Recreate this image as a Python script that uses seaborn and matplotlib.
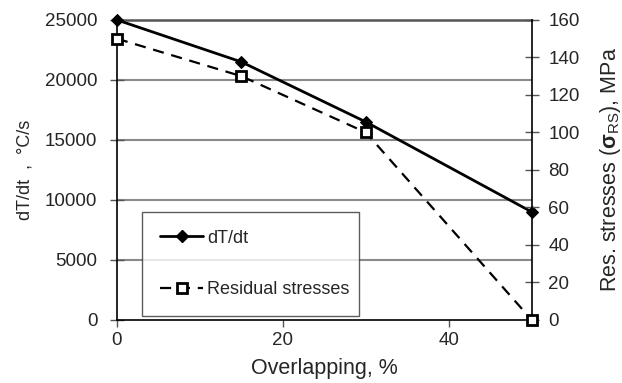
import matplotlib
matplotlib.use("Agg")
import matplotlib.pyplot as plt
import seaborn as sns
import pandas as pd
from matplotlib.lines import Line2D

overlap = [0, 15, 30, 50]
dtdt = [25000, 21500, 16500, 9000]
res_stress = [150, 130, 100, 0]
left_ticks = [0, 5000, 10000, 15000, 20000, 25000]
right_ticks = [0, 20, 40, 60, 80, 100, 120, 140, 160]
x_ticks = [0, 20, 40]

sns.set_theme(style="white")
plt.rcParams['font.family'] = ['Liberation Sans', 'DejaVu Sans']
plt.rcParams['mathtext.fontset'] = 'custom'
plt.rcParams['mathtext.rm'] = 'Liberation Sans'
plt.rcParams['mathtext.it'] = 'Liberation Sans'
plt.rcParams['mathtext.bf'] = 'Liberation Sans:bold'

df1 = pd.DataFrame({"x": overlap, "y": dtdt})
df2 = pd.DataFrame({"x": overlap, "y": res_stress})

fig = plt.figure(figsize=(6.22, 3.83), dpi=100)
ax = fig.add_axes([0.188, 0.1645, 0.667, 0.7835])
ax2 = ax.twinx()

for v in left_ticks[1:-1]:
    ax.axhline(v, color="#8a8a8a", lw=1.5, zorder=0)
ax.axhline(left_ticks[-1], color="#555555", lw=1.8, zorder=0, clip_on=False)

sns.lineplot(data=df1, x="x", y="y", ax=ax, color="black", lw=2,
             marker="D", markersize=6, markeredgecolor="black", zorder=3,
             clip_on=False)
sns.lineplot(data=df2, x="x", y="y", ax=ax2, color="black", lw=1.6,
             linestyle=(0, (5, 3.5)), marker="s", markersize=7,
             markerfacecolor="white", markeredgecolor="black",
             markeredgewidth=2, zorder=3, clip_on=False)

ax.set_xlim(0, 50)
ax.set_ylim(0, 25000)
ax2.set_ylim(0, 160)
ax.set_xticks(x_ticks)
ax.set_yticks(left_ticks)
ax2.set_yticks(right_ticks)

for a in (ax, ax2):
    for s in a.spines.values():
        s.set_visible(False)
ax.spines['left'].set_visible(True)
ax.spines['bottom'].set_visible(True)
ax2.spines['right'].set_visible(True)
for s in ('left', 'bottom'):
    ax.spines[s].set_color('black'); ax.spines[s].set_linewidth(1.2)
ax2.spines['right'].set_color('black'); ax2.spines['right'].set_linewidth(1.2)

ax.tick_params(axis='y', direction='inout', length=10, width=1, color='#555555',
               labelsize=13.5, pad=9, left=True)
ax.tick_params(axis='x', direction='out', length=5, width=1, color='#555555',
               labelsize=13.5, pad=4, bottom=True)
ax2.tick_params(axis='y', direction='inout', length=10, width=1, color='#555555',
                labelsize=13.5, pad=7, right=True)

ax.set_xlabel("Overlapping, %", fontsize=15.5)
ax.xaxis.set_label_coords(0.5, -0.125)
ax.set_ylabel("dT/dt  ,  °C/s", fontsize=13)
ax.yaxis.set_label_coords(-0.2, 0.5)
ax2.set_ylabel(r"Res. stresses ($\mathbf{\sigma}_{\rm RS}$), MPa", fontsize=15.5,
               rotation=90)
ax2.yaxis.set_label_coords(1.16, 0.5)

handles = [
    Line2D([], [], color="black", lw=2, marker="D", markersize=6),
    Line2D([], [], color="black", lw=1.6, linestyle=(0, (5, 3.5)), marker="s",
           markersize=7, markerfacecolor="white", markeredgewidth=2),
]
leg = ax2.legend(handles, ["dT/dt", "Residual stresses"], loc="lower left",
                 bbox_to_anchor=(0.06, 0.013, 0.523, 0.37), mode="expand",
                 frameon=True, fancybox=False, edgecolor="#333333",
                 fontsize=13, labelspacing=1.9, handlelength=2.4,
                 handletextpad=0.2, borderpad=1.0, borderaxespad=0)
leg.get_frame().set_linewidth(1.0)
leg.set_zorder(10)

fig.savefig("out.png", dpi=100)
